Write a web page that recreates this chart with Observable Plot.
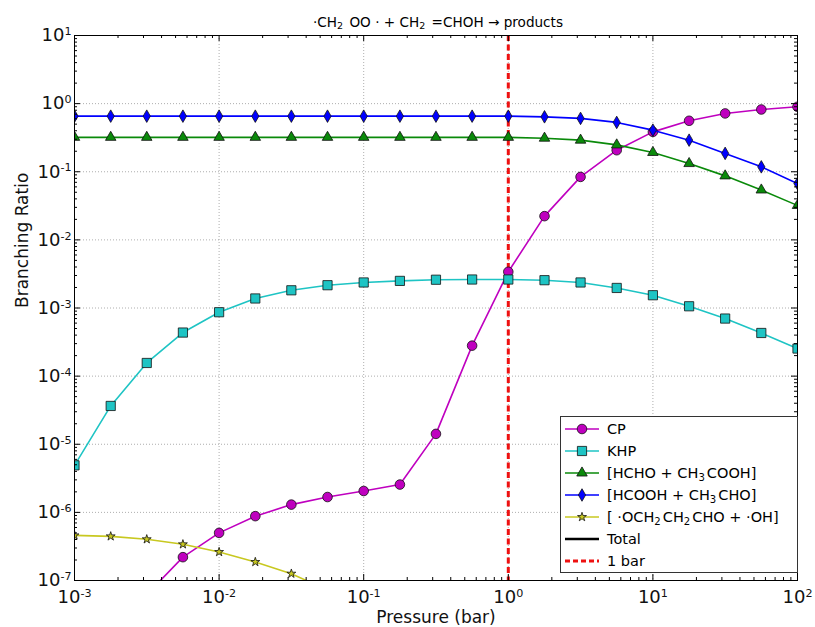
<!DOCTYPE html>
<html><head><meta charset="utf-8">
<script src="https://cdn.jsdelivr.net/npm/d3@7"></script>
<script src="https://cdn.jsdelivr.net/npm/@observablehq/plot@0.6"></script>
<style>
body{margin:0;background:#fff;font-family:"DejaVu Sans",sans-serif;}
#wrap{position:relative;width:815px;height:627px;overflow:hidden;background:#fff}
#title{position:absolute;left:238px;width:400px;top:14px;text-align:center;font-size:13.6px;line-height:16px;white-space:nowrap}
#legend{position:absolute;left:560px;top:416px;width:236px;height:155px;border:1px solid #333;background:#fff}
.row{position:absolute;left:0;height:22px;width:236px}
.row svg{position:absolute;left:2px;top:0}
.row span{position:absolute;left:46px;top:2px;font-size:14.5px;line-height:18px;white-space:nowrap}
sub{font-size:0.7em;vertical-align:-0.25em;line-height:0;margin-right:2px}
</style></head><body>
<div id="wrap"><div id="chart"></div>
<div id="title">·CH<sub>2</sub> OO · + CH<sub>2</sub> =CHOH  → products</div>
<div id="legend"></div></div>
<script>
// Pressure (bar)
const pressure = [0.001, 0.00178, 0.00316, 0.00562, 0.01, 0.0178, 0.0316, 0.0562, 0.1, 0.178, 0.316, 0.562, 1, 1.78, 3.16, 5.62, 10, 17.8, 31.6, 56.2, 100];
// Branching ratios
const cp    = [6e-9, 2e-8, 6.2e-8, 2.2e-7, 5.0e-7, 8.8e-7, 1.3e-6, 1.68e-6, 2.06e-6, 2.56e-6, 1.42e-5, 2.8e-4, 3.4e-3, 0.0223, 0.084, 0.207, 0.385, 0.56, 0.718, 0.82, 0.90];
const khp   = [4.9e-6, 3.65e-5, 1.56e-4, 4.36e-4, 8.67e-4, 1.38e-3, 1.82e-3, 2.16e-3, 2.37e-3, 2.5e-3, 2.6e-3, 2.62e-3, 2.62e-3, 2.56e-3, 2.37e-3, 1.97e-3, 1.54e-3, 1.06e-3, 7.0e-4, 4.3e-4, 2.54e-4];
const hcho  = [0.32, 0.32, 0.32, 0.32, 0.32, 0.32, 0.32, 0.32, 0.32, 0.32, 0.32, 0.32, 0.32, 0.311, 0.291, 0.248, 0.192, 0.132, 0.087, 0.054, 0.032];
const hcooh = [0.655, 0.655, 0.655, 0.655, 0.655, 0.655, 0.655, 0.655, 0.655, 0.655, 0.655, 0.655, 0.655, 0.64, 0.607, 0.53, 0.408, 0.291, 0.186, 0.118, 0.067];
const och2  = [4.6e-7, 4.45e-7, 4.03e-7, 3.4e-7, 2.62e-7, 1.87e-7, 1.26e-7, 7.2e-8, 3e-8, 1e-8, 3e-9, 1e-9, 3e-10, 1e-10, 3e-11, 1e-11, 3e-12, 1e-12, 3e-13, 1e-13, 3e-14];
const oneBar = [1];
// Axis ticks
const xMajor = [1e-3, 1e-2, 1e-1, 1, 10, 100];
const yMajor = [1e-7, 1e-6, 1e-5, 1e-4, 1e-3, 1e-2, 1e-1, 1, 10];
const minorMult = [2, 3, 4, 5, 6, 7, 8, 9];

const seriesNames = ["CP", "KHP", "[HCHO + CH3COOH]", "[HCOOH + CH3CHO]", "[·OCH2CH2CHO + ·OH]"];
const seriesValues = [cp, khp, hcho, hcooh, och2];
const styles = [
  {color: "#bf00bf", symbol: "circle", r: 4.8, d3s: d3.symbolCircle},
  {color: "#1ec4c4", symbol: "square", r: 5.2, d3s: d3.symbolSquare},
  {color: "#0a8a0a", symbol: "triangle", r: 3.9, d3s: d3.symbolTriangle},
  {color: "#0000ff", symbol: "diamond", r: 3.8, d3s: d3.symbolDiamond},
  {color: "#c8c820", symbol: "star", r: 2.8, d3s: d3.symbolStar}
];
const legendLabels = [
  "CP", "KHP", "[HCHO + CH<sub>3</sub>COOH]", "[HCOOH + CH<sub>3</sub>CHO]",
  "[ ·OCH<sub>2</sub>CH<sub>2</sub>CHO +  ·OH]", "Total", "1 bar"
];

const minorOf = (major) => major.slice(0, -1).flatMap(m => minorMult.map(k => k * m));
const xMinor = minorOf(xMajor), yMinor = minorOf(yMajor);

const W = 815, H = 627, mt = 35, mr = 18, mb = 47, ml = 74;
const fw = W - ml - mr, fh = H - mt - mb;
const fmt = d => "10" + String(Math.round(Math.log10(d)));

const tables = seriesValues.map((vals, s) => pressure.map((p, i) => ({p, v: vals[i], s})));

const marks = [
  Plot.gridX(xMajor, {stroke: "#999", strokeOpacity: 1, strokeWidth: 0.8, strokeDasharray: "1,2"}),
  Plot.gridY(yMajor, {stroke: "#999", strokeOpacity: 1, strokeWidth: 0.8, strokeDasharray: "1,2"}),
  Plot.ruleX(oneBar, {stroke: "#ee1111", strokeWidth: 3, strokeDasharray: "6,3.5"})
];
tables.forEach((t, s) => {
  const st = styles[s];
  marks.push(Plot.line(t, {x: "p", y: "v", stroke: st.color, strokeWidth: 1.6, clip: true}));
  marks.push(Plot.dot(t, {x: "p", y: "v", symbol: st.symbol, r: st.r, fill: st.color, stroke: "#111", strokeWidth: 0.8, clip: true}));
});
// inward ticks on all 4 sides
marks.push(
  Plot.tickX(xMajor, {x: d => d, insetTop: fh - 6, stroke: "#000"}),
  Plot.tickX(xMajor, {x: d => d, insetBottom: fh - 6, stroke: "#000"}),
  Plot.tickX(xMinor, {x: d => d, insetTop: fh - 3, stroke: "#000"}),
  Plot.tickX(xMinor, {x: d => d, insetBottom: fh - 3, stroke: "#000"}),
  Plot.tickY(yMajor, {y: d => d, insetRight: fw - 6, stroke: "#000"}),
  Plot.tickY(yMajor, {y: d => d, insetLeft: fw - 6, stroke: "#000"}),
  Plot.tickY(yMinor, {y: d => d, insetRight: fw - 3, stroke: "#000"}),
  Plot.tickY(yMinor, {y: d => d, insetLeft: fw - 3, stroke: "#000"}),
  Plot.frame({stroke: "#000", strokeWidth: 1}),
  Plot.axisX(xMajor, {tickSize: 0, tickPadding: 10, tickFormat: fmt, fontSize: 18, label: null}),
  Plot.axisY(yMajor, {tickSize: 0, tickPadding: 3, tickFormat: fmt, fontSize: 18, label: null}),
  Plot.text(["Pressure (bar)"], {frameAnchor: "bottom", dy: 37, text: d => d, fontSize: 17, lineAnchor: "middle"}),
  Plot.text(["Branching Ratio"], {frameAnchor: "left", dx: -52, rotate: -90, text: d => d, fontSize: 17, lineAnchor: "middle"})
);

const chart = Plot.plot({
  width: W, height: H,
  marginTop: mt, marginRight: mr, marginBottom: mb, marginLeft: ml,
  style: {fontFamily: "DejaVu Sans, sans-serif", background: "#fff", color: "#111"},
  x: {type: "log", domain: [1e-3, 100]},
  y: {type: "log", domain: [1e-7, 10]},
  marks
});
document.getElementById("chart").appendChild(chart);

// superscript exponents in tick labels
const NS = "http://www.w3.org/2000/svg";
chart.querySelectorAll('g[aria-label$="tick label"] text').forEach(t => {
  const s = t.textContent;
  if (!s.startsWith("10")) return;
  const e = s.slice(2);
  t.textContent = "10";
  const ts = document.createElementNS(NS, "tspan");
  ts.setAttribute("dy", "-0.55em");
  ts.setAttribute("font-size", "0.62em");
  ts.textContent = e;
  t.appendChild(ts);
});

// legend
const legend = document.getElementById("legend");
const rows = [...styles.map(st => ({color: st.color, sym: st.d3s, r: st.r, width: 1.6})), {color: "#000", width: 2.6}, {color: "#ee1111", width: 3, dash: "5,3"}];
rows.forEach((row, i) => {
  const div = document.createElement("div");
  div.className = "row";
  div.style.top = (1 + i * 22.05) + "px";
  const svg = d3.create("svg").attr("width", 40).attr("height", 22);
  svg.append("line").attr("x1", 2).attr("x2", 36).attr("y1", 11).attr("y2", 11)
    .attr("stroke", row.color).attr("stroke-width", row.width).attr("stroke-dasharray", row.dash || null);
  if (row.sym) {
    svg.append("path").attr("transform", "translate(19,11)")
      .attr("d", d3.symbol(row.sym, Math.PI * row.r * row.r)())
      .attr("fill", row.color).attr("stroke", "#111").attr("stroke-width", 0.8);
  }
  div.appendChild(svg.node());
  const sp = document.createElement("span");
  sp.innerHTML = legendLabels[i];
  div.appendChild(sp);
  legend.appendChild(div);
});
</script>
</body></html>
